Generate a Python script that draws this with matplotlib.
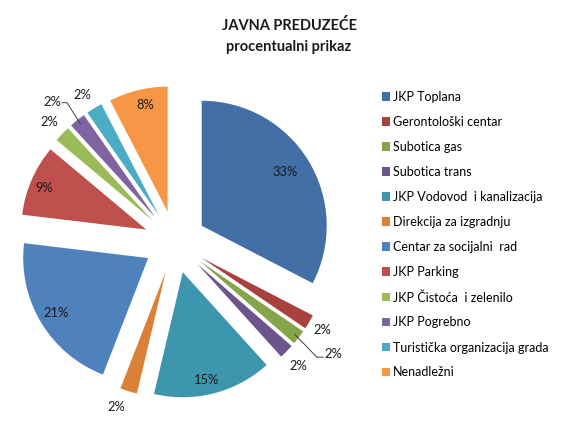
import numpy as np
import matplotlib
matplotlib.use('Agg')
import matplotlib.pyplot as plt

# podaci
names = ['JKP Toplana', 'Gerontološki centar', 'Subotica gas', 'Subotica trans',
         'JKP Vodovod  i kanalizacija', 'Direkcija za izgradnju', 'Centar za socijalni  rad',
         'JKP Parking', 'JKP Čistoća  i zelenilo', 'JKP Pogrebno',
         'Turistička organizacija grada', 'Nenadležni']
shares = [32.6, 1.9, 1.9, 1.9, 15.4, 2.2, 21.0, 9.2, 2.1, 2.1, 2.1, 7.6]
colors = ['#416FA6', '#A8423F', '#86A44A', '#6E548D', '#3D96AE', '#DA8137',
          '#4F81BD', '#C0504D', '#9BBB59', '#8064A2', '#4BACC6', '#F79646']

# polozaj oznaka: udaljenost od centra (u poluprecnicima) i pomak ugla
lab_r = [1.04, 1.37, 1.55, 1.40, 1.13, 1.40, 1.11, 1.13, 1.39, 1.49, 1.39, 1.12]
lab_da = [1, 0, 2.3, -0.7, -1.4, -2.4, 0, 1, 0, 2.6, 1.2, -1.3]
leader = [False, False, True, False, False, False, False, False, False, True, False, False]

plt.rcParams['font.family'] = ['Lato', 'DejaVu Sans']

fig = plt.figure(figsize=(5.73, 4.29), dpi=100)
W, H = 573.0, 429.0
cx, cy, R = 175.0, 187.0, 125.0
ax = fig.add_axes([(cx - 1.4 * R) / W, (cy - 1.45 * R) / H, 3.0 * R / W, 2.9 * R / H])

explode = [0.25] * len(shares)
wedges, _ = ax.pie(shares, colors=colors, explode=explode, startangle=90,
                   counterclock=False, radius=1.0,
                   wedgeprops=dict(linewidth=0))
ax.set_xlim(-1.4, 1.6)
ax.set_ylim(-1.45, 1.45)
ax.set_aspect('auto')
ax.axis('off')

for i, w in enumerate(wedges):
    ang = np.deg2rad((w.theta1 + w.theta2) / 2.0 + lab_da[i])
    pct = '%d%%' % round(shares[i])
    x, y = lab_r[i] * np.cos(ang), lab_r[i] * np.sin(ang)
    ax.text(x, y, pct, ha='center', va='center', fontsize=9.3, color='#1a1a1a')
    if leader[i]:
        mid = np.deg2rad((w.theta1 + w.theta2) / 2.0)
        p0 = (1.21 * np.cos(mid), 1.21 * np.sin(mid))
        side = 1 if x > 0 else -1
        if side > 0:
            ye = y - 0.025
            pts = [p0, (x - 0.13, ye), (x - 0.08, ye)]
        else:
            ye = y - 0.005
            pts = [p0, (x + 0.12, ye), (x + 0.08, ye)]
        ax.plot([p[0] for p in pts], [p[1] for p in pts], color='#404040', lw=0.7)

fig.text(289 / W, 1 - 26 / H, 'JAVNA PREDUZEĆE', ha='center', va='center',
         fontsize=10.5, fontweight='bold', color='#1a1a1a')
fig.text(289 / W, 1 - 47 / H, 'procentualni prikaz', ha='center', va='center',
         fontsize=10.5, fontweight='bold', color='#1a1a1a')

fig.legend(wedges, names, loc='upper left', bbox_to_anchor=(382 / W, 1 - 91 / H),
           frameon=False, fontsize=9, handlelength=0.65, handleheight=0.65,
           handletextpad=0.25, labelspacing=1.04, borderaxespad=0, borderpad=0)

fig.savefig('out.png', dpi=100, facecolor='white')
